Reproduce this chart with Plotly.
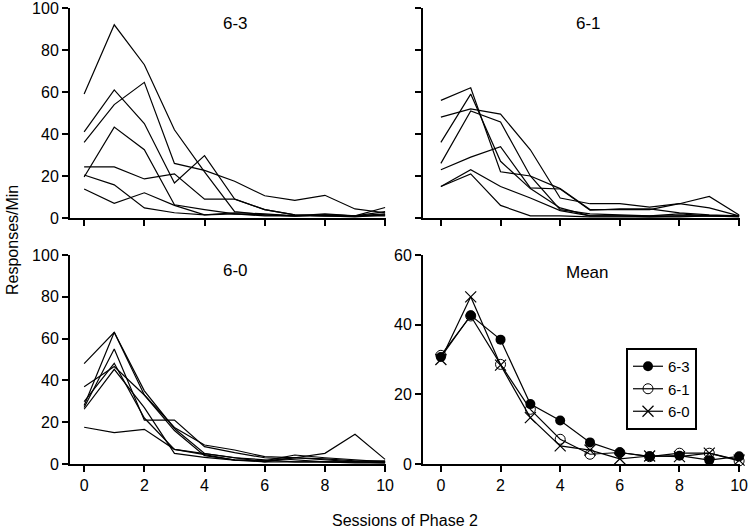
import plotly.graph_objects as go

sessions = list(range(11))

# Individual subjects, condition 6-3
subj_63 = [
    [59, 92, 73, 42, 22, 3, 1.5, 1, 1.5, 1, 1.5],
    [41, 61, 45, 16.7, 29.7, 9, 4, 1.5, 1, 1, 2],
    [36, 54, 64.6, 26, 22.7, 17.5, 10.6, 8.4, 10.8, 4.3, 2.5],
    [19.5, 43.3, 32.5, 6.3, 4, 2, 1, 1, 1.5, 1, 5],
    [24.3, 24.3, 18.6, 21, 9, 9, 4, 1.5, 1, 1, 1],
    [20.5, 15.8, 4.8, 2.5, 1.5, 2, 1.5, 1, 2, 1, 3],
    [13.8, 7, 12, 6, 1.5, 2.5, 2, 1, 1, 0.5, 1.5],
]

# Individual subjects, condition 6-1
subj_61 = [
    [56, 62, 22, 20, 14, 4, 4, 4, 6.8, 4.8, 1],
    [36, 59, 27, 14, 4.8, 1, 1, 1, 2, 1, 1],
    [48, 52, 49.5, 32.5, 9.5, 6.8, 6.8, 5.2, 6.8, 10.3, 1.4],
    [26, 51, 45.7, 20, 4, 2, 1.5, 1, 1, 1, 1],
    [23, 29, 34, 14.3, 13.8, 3.7, 4.3, 4.3, 2.4, 1.5, 1],
    [15, 23, 15, 9.5, 3.5, 1, 1, 0.5, 1, 1, 0.5],
    [15, 21, 6, 1, 1, 0.5, 0.5, 0.5, 0.5, 1, 1],
]

# Individual subjects, condition 6-0
subj_60 = [
    [48, 63, 35, 17, 5, 3, 2, 1, 1, 1, 1],
    [28, 63, 33, 17.5, 9.1, 6.7, 3.5, 3, 2.5, 1.5, 1.5],
    [27, 55, 21, 21, 8.3, 5.4, 3, 2, 1, 1, 0.5],
    [37, 46.6, 33, 16, 4, 2, 1.5, 4.3, 3, 2, 1],
    [29.8, 48.2, 22, 7, 5, 3, 1, 3, 2, 1, 1],
    [26.2, 45.3, 27, 5.1, 3.2, 1.9, 1.5, 3, 5.1, 14.2, 2.2],
    [17.6, 15, 16.6, 7, 4.5, 1.9, 1, 1, 1, 0.5, 0.5],
]

# Group means
mean_63 = [30.7, 42.7, 35.7, 17.2, 12.5, 6.2, 3.3, 2.2, 2.4, 1.1, 2.2]
mean_61 = [31.2, 42.5, 28.6, 15.7, 7.1, 2.8, 3.3, 2.1, 3.1, 3.1, 0.9]
mean_60 = [30.0, 48.0, 28.4, 13.3, 5.2, 4.0, 1.5, 2.3, 2.1, 3.1, 1.1]

panel_titles = ["6-3", "6-1", "6-0", "Mean"]
legend_names = ["6-3", "6-1", "6-0"]
xticks = [0, 2, 4, 6, 8, 10]

FONT = "Arial, Liberation Sans, Helvetica, sans-serif"
W, H = 750, 531

fig = go.Figure()


def add_subjects(data, xa, ya):
    for row in data:
        fig.add_trace(go.Scatter(
            x=sessions, y=row, mode="lines",
            line=dict(color="black", width=1.2),
            showlegend=False, hoverinfo="skip",
            xaxis=xa, yaxis=ya,
        ))


add_subjects(subj_63, "x", "y")
add_subjects(subj_61, "x2", "y2")
add_subjects(subj_60, "x3", "y3")

mean_specs = [
    (mean_63, dict(symbol="circle", size=10, color="black")),
    (mean_61, dict(symbol="circle-open", size=10, color="black", line=dict(width=1, color="black"))),
    (mean_60, dict(symbol="x-thin-open", size=11, color="black", line=dict(width=1.2, color="black"))),
]
for (vals, mk), name in zip(mean_specs, legend_names):
    fig.add_trace(go.Scatter(
        x=sessions, y=vals, mode="lines+markers", name=name,
        line=dict(color="black", width=1.2), marker=mk,
        xaxis="x4", yaxis="y4", cliponaxis=False,
    ))


def px_x(a, b):
    return [a / W, b / W]


def px_y(top, bottom):
    return [(H - bottom) / H, (H - top) / H]


def xaxis(domain, rng, labels, anchor):
    return dict(
        domain=domain, range=rng, anchor=anchor, automargin=False,
        showline=True, linecolor="black", linewidth=2,
        ticks="outside", ticklen=6, tickwidth=2, tickcolor="black",
        tickvals=xticks, showticklabels=labels, ticklabeloverflow="allow",
        showgrid=False, zeroline=False,
        tickfont=dict(family=FONT, size=16, color="black"),
    )


def yaxis(domain, rng, dtick, labels, anchor):
    return dict(
        domain=domain, range=rng, anchor=anchor, automargin=False,
        showline=True, linecolor="black", linewidth=2,
        ticks="outside", ticklen=6, tickwidth=2, tickcolor="black",
        tick0=0, dtick=dtick, showticklabels=labels, ticklabeloverflow="allow",
        showgrid=False, zeroline=False,
        tickfont=dict(family=FONT, size=16, color="black"),
    )


left_x = px_x(70, 386)
right_x = px_x(423, 740)
top_y = px_y(8, 218)
bot_y = px_y(255, 464)

fig.update_layout(
    width=W, height=H,
    margin=dict(l=0, r=0, t=0, b=0, autoexpand=False),
    paper_bgcolor="white", plot_bgcolor="white",
    font=dict(family=FONT, size=16, color="black"),
    xaxis=xaxis(left_x, [-0.47, 10.03], False, "y"),
    yaxis=yaxis(top_y, [0, 100], 20, True, "x"),
    xaxis2=xaxis(right_x, [-0.6, 10.03], False, "y2"),
    yaxis2=yaxis(top_y, [0, 100], 20, False, "x2"),
    xaxis3=xaxis(left_x, [-0.47, 10.03], True, "y3"),
    yaxis3=yaxis(bot_y, [0, 100], 20, True, "x3"),
    xaxis4=xaxis(right_x, [-0.6, 10.03], True, "y4"),
    yaxis4=yaxis(bot_y, [0, 60], 20, True, "x4"),
    legend=dict(
        x=626 / W, y=(H - 348) / H, xanchor="left", yanchor="top",
        bordercolor="black", borderwidth=2, bgcolor="white",
        font=dict(family=FONT, size=15, color="black"),
        tracegroupgap=0, itemwidth=30,
    ),
)

title_pos = [(235, 23), (588, 23), (235, 270), (587, 272)]
annotations = []
for txt, (px, py) in zip(panel_titles, title_pos):
    annotations.append(dict(
        text=txt, x=px / W, y=(H - py) / H, xref="paper", yref="paper",
        showarrow=False, xanchor="center", yanchor="middle",
        font=dict(family=FONT, size=17, color="black"),
    ))
annotations.append(dict(
    text="Responses/Min", x=12 / W, y=(H - 240) / H, xref="paper", yref="paper",
    showarrow=False, textangle=-90, xanchor="center", yanchor="middle",
    font=dict(family=FONT, size=16, color="black"),
))
annotations.append(dict(
    text="Sessions of Phase 2", x=405 / W, y=(H - 520) / H, xref="paper", yref="paper",
    showarrow=False, xanchor="center", yanchor="middle",
    font=dict(family=FONT, size=16, color="black"),
))
fig.update_layout(annotations=annotations)

fig.write_html(
    "out.html",
    config={"displayModeBar": False},
    post_script="document.body.style.margin='0';document.body.style.padding='0';document.body.style.overflow='hidden';",
)
